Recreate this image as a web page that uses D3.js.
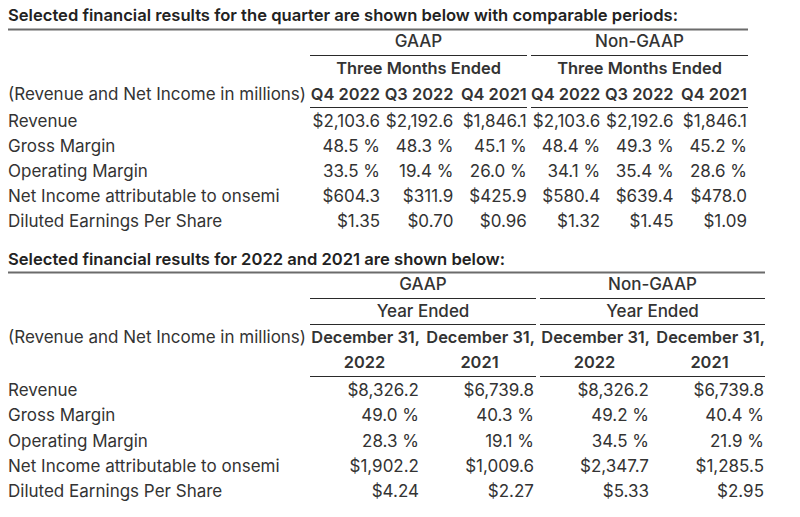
<!DOCTYPE html>
<html>
<head>
<meta charset="utf-8">
<script src="https://cdn.jsdelivr.net/npm/d3@7"></script>
<style>
  html, body { margin: 0; padding: 0; background: #fff; }
  svg { display: block; font-family: Inter, "Noto Sans", sans-serif; }
</style>
</head>
<body>
<svg id="chart" width="800" height="517"></svg>
<script>
// ---------- data ----------
const title1 = "Selected financial results for the quarter are shown below with comparable periods:";
const title2 = "Selected financial results for 2022 and 2021 are shown below:";
const groups = ["GAAP", "Non-GAAP"];
const quarterSub = "Three Months Ended";
const yearSub = "Year Ended";
const unitLabel = "(Revenue and Net Income in millions)";
const quarterCols = ["Q4 2022", "Q3 2022", "Q4 2021", "Q4 2022", "Q3 2022", "Q4 2021"];
const yearColsTop = ["December 31,", "December 31,", "December 31,", "December 31,"];
const yearCols = ["2022", "2021", "2022", "2021"];
const rowLabels = ["Revenue", "Gross Margin", "Operating Margin", "Net Income attributable to onsemi", "Diluted Earnings Per Share"];

// quarter values, one array per column
const gaapQ4_2022 = [2103.6, 48.5, 33.5, 604.3, 1.35];
const gaapQ3_2022 = [2192.6, 48.3, 19.4, 311.9, 0.70];
const gaapQ4_2021 = [1846.1, 45.1, 26.0, 425.9, 0.96];
const nonQ4_2022  = [2103.6, 48.4, 34.1, 580.4, 1.32];
const nonQ3_2022  = [2192.6, 49.3, 35.4, 639.4, 1.45];
const nonQ4_2021  = [1846.1, 45.2, 28.6, 478.0, 1.09];
// annual values
const gaapY2022 = [8326.2, 49.0, 28.3, 1902.2, 4.24];
const gaapY2021 = [6739.8, 40.3, 19.1, 1009.6, 2.27];
const nonY2022  = [8326.2, 49.2, 34.5, 2347.7, 5.33];
const nonY2021  = [6739.8, 40.4, 21.9, 1285.5, 2.95];

const quarterData = [gaapQ4_2022, gaapQ3_2022, gaapQ4_2021, nonQ4_2022, nonQ3_2022, nonQ4_2021];
const yearData = [gaapY2022, gaapY2021, nonY2022, nonY2021];

// ---------- formatting ----------
const fMoney = d3.format(",.1f");
const fPct = d3.format(".1f");
const fEps = d3.format(".2f");
function fmt(v, r) {
  if (r === 0 || r === 3) return "$" + fMoney(v);
  if (r === 1 || r === 2) return fPct(v) + " %";
  return "$" + fEps(v);
}

// ---------- drawing ----------
const svg = d3.select("#chart");
const TXT = "#333333";
const LINE = "#2a2a2a";
const FS = 17;
const TFS = 16.6;
const HFS = 16.4;

function text(x, y, s, opts = {}) {
  return svg.append("text")
    .attr("x", x).attr("y", y)
    .attr("font-size", opts.size || FS)
    .attr("font-weight", opts.weight || 400)
    .attr("fill", opts.color || TXT)
    .attr("text-anchor", opts.anchor || "start")
    .text(s);
}
function hline(x1, x2, y, opts = {}) {
  svg.append("line")
    .attr("x1", x1).attr("x2", x2).attr("y1", y).attr("y2", y)
    .attr("stroke", opts.color || LINE)
    .attr("stroke-width", opts.width || 1);
}

const labelX = 8;

// ===== Table 1 (quarter) =====
{
  const colRight = d3.scaleLinear().domain([0, quarterCols.length - 1]).range([380, 747]);
  const rowY = d3.scaleLinear().domain([0, rowLabels.length - 1]).range([126.5, 226.5]);
  const groupSpan = [[310, 527], [531, 748]];

  text(labelX, 21, title1, {weight: 600, color: "#222", size: TFS});
  hline(8, 748, 29.5, {color: "#6b6b6b", width: 2});

  groups.forEach((g, i) => {
    const [a, b] = groupSpan[i];
    text((a + b) / 2, 47, g, {anchor: "middle", weight: 500});
    hline(a, b, 55.5);
    text((a + b) / 2, 74, quarterSub, {anchor: "middle", weight: 600, size: HFS});
  });

  text(labelX, 100, unitLabel);
  svg.selectAll(null).data(quarterCols).join("text")
    .attr("x", (d, i) => colRight(i)).attr("y", 100)
    .attr("text-anchor", "end").attr("font-size", HFS).attr("font-weight", 600)
    .attr("fill", TXT).text(d => d);
  groups.forEach((g, i) => hline(groupSpan[i][0], groupSpan[i][1], 107.5));

  svg.selectAll(null).data(rowLabels).join("text")
    .attr("x", labelX).attr("y", (d, i) => rowY(i))
    .attr("font-size", FS).attr("fill", TXT).text(d => d);

  quarterData.forEach((col, c) => {
    svg.selectAll(null).data(col).join("text")
      .attr("x", colRight(c)).attr("y", (d, r) => rowY(r))
      .attr("text-anchor", "end").attr("font-size", FS).attr("fill", TXT)
      .text((d, r) => fmt(d, r));
  });
}

// ===== Table 2 (year) =====
{
  const colRight = d3.scaleLinear().domain([0, yearCols.length - 1]).range([419, 764]);
  const colLeft = d3.scaleLinear().domain([0, yearCols.length - 1]).range([310, 655]);
  const rowY = d3.scaleLinear().domain([0, rowLabels.length - 1]).range([396, 497]);
  const groupSpan = [[310, 536], [540, 765]];

  text(labelX, 265, title2, {weight: 600, color: "#222", size: TFS});
  hline(8, 765, 272.5, {color: "#6b6b6b", width: 2});

  groups.forEach((g, i) => {
    const [a, b] = groupSpan[i];
    text((a + b) / 2, 290, g, {anchor: "middle", weight: 500});
    hline(a, b, 298.5);
    text((a + b) / 2, 317, yearSub, {anchor: "middle", weight: 500});
    hline(a, b, 324.5);
  });

  text(labelX, 343, unitLabel);
  svg.selectAll(null).data(yearColsTop).join("text")
    .attr("x", (d, i) => colRight(i) + 1).attr("y", 343)
    .attr("text-anchor", "end").attr("font-size", HFS).attr("font-weight", 600)
    .attr("fill", TXT).text(d => d);
  svg.selectAll(null).data(yearCols).join("text")
    .attr("x", (d, i) => (colLeft(i) + colRight(i)) / 2).attr("y", 368)
    .attr("text-anchor", "middle").attr("font-size", HFS).attr("font-weight", 600)
    .attr("fill", TXT).text(d => d);
  groups.forEach((g, i) => hline(groupSpan[i][0], groupSpan[i][1], 376.5));

  svg.selectAll(null).data(rowLabels).join("text")
    .attr("x", labelX).attr("y", (d, i) => rowY(i))
    .attr("font-size", FS).attr("fill", TXT).text(d => d);

  yearData.forEach((col, c) => {
    svg.selectAll(null).data(col).join("text")
      .attr("x", colRight(c)).attr("y", (d, r) => rowY(r))
      .attr("text-anchor", "end").attr("font-size", FS).attr("fill", TXT)
      .text((d, r) => fmt(d, r));
  });
}
</script>
</body>
</html>
